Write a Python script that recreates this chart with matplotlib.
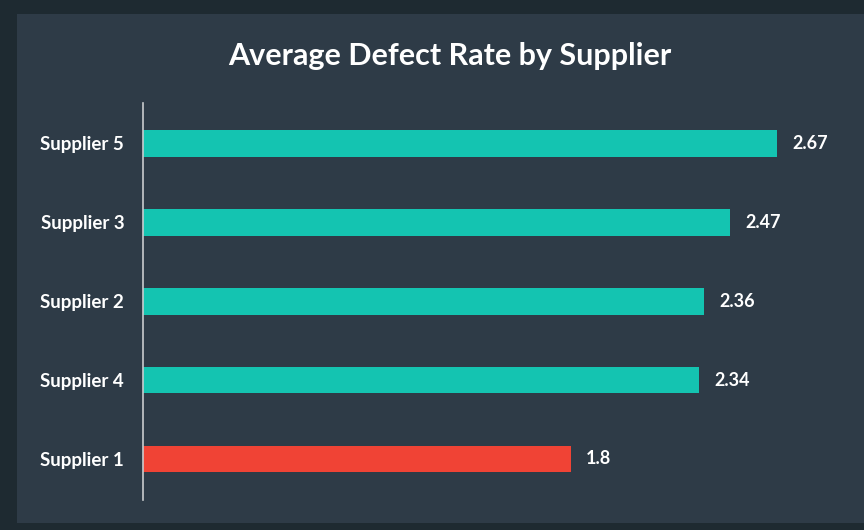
import matplotlib.pyplot as plt

suppliers = ['Supplier 1', 'Supplier 4', 'Supplier 2', 'Supplier 3', 'Supplier 5']
defect_rates = [1.8, 2.34, 2.36, 2.47, 2.67]
bar_colors = ['#f04335', '#14c4b1', '#14c4b1', '#14c4b1', '#14c4b1']

outer_bg = '#1e2a31'
panel_bg = '#2e3b47'

plt.rcParams['font.family'] = ['Lato', 'DejaVu Sans']

fig = plt.figure(figsize=(8.64, 5.30), dpi=100, facecolor=outer_bg)

# inner panel as a background axes
bg = fig.add_axes([17 / 864, 7 / 530, 1.0, 509 / 530], zorder=-1)
bg.set_facecolor(panel_bg)
bg.set_xticks([])
bg.set_yticks([])
for s in bg.spines.values():
    s.set_visible(False)

ax = fig.add_axes([143 / 864, 30 / 530, 687 / 864, 397 / 530])
ax.set_facecolor('none')
ax.barh(range(len(suppliers)), defect_rates, height=0.34, color=bar_colors)
ax.set_xlim(0, 687 / 237.5)
ax.set_ylim(-0.52, 4.51)
ax.set_yticks(range(len(suppliers)))
ax.set_yticklabels(suppliers, color='white', fontsize=13.5, fontweight='bold')
ax.tick_params(axis='y', length=0, pad=13.5)
ax.set_xticks([])
for s in ['top', 'right', 'bottom']:
    ax.spines[s].set_visible(False)
ax.spines['left'].set_color('#c9ccce')
ax.spines['left'].set_linewidth(1.2)

for i, v in enumerate(defect_rates):
    ax.text(v + 0.065, i, f'{v:g}', va='center', ha='left', color='white',
            fontsize=13, fontweight='bold')

fig.text(449.5 / 864, 1 - 56 / 530, 'Average Defect Rate by Supplier', ha='center', va='center',
         color='white', fontsize=22, fontweight='bold')

fig.savefig('out.png', dpi=100, facecolor=outer_bg)
